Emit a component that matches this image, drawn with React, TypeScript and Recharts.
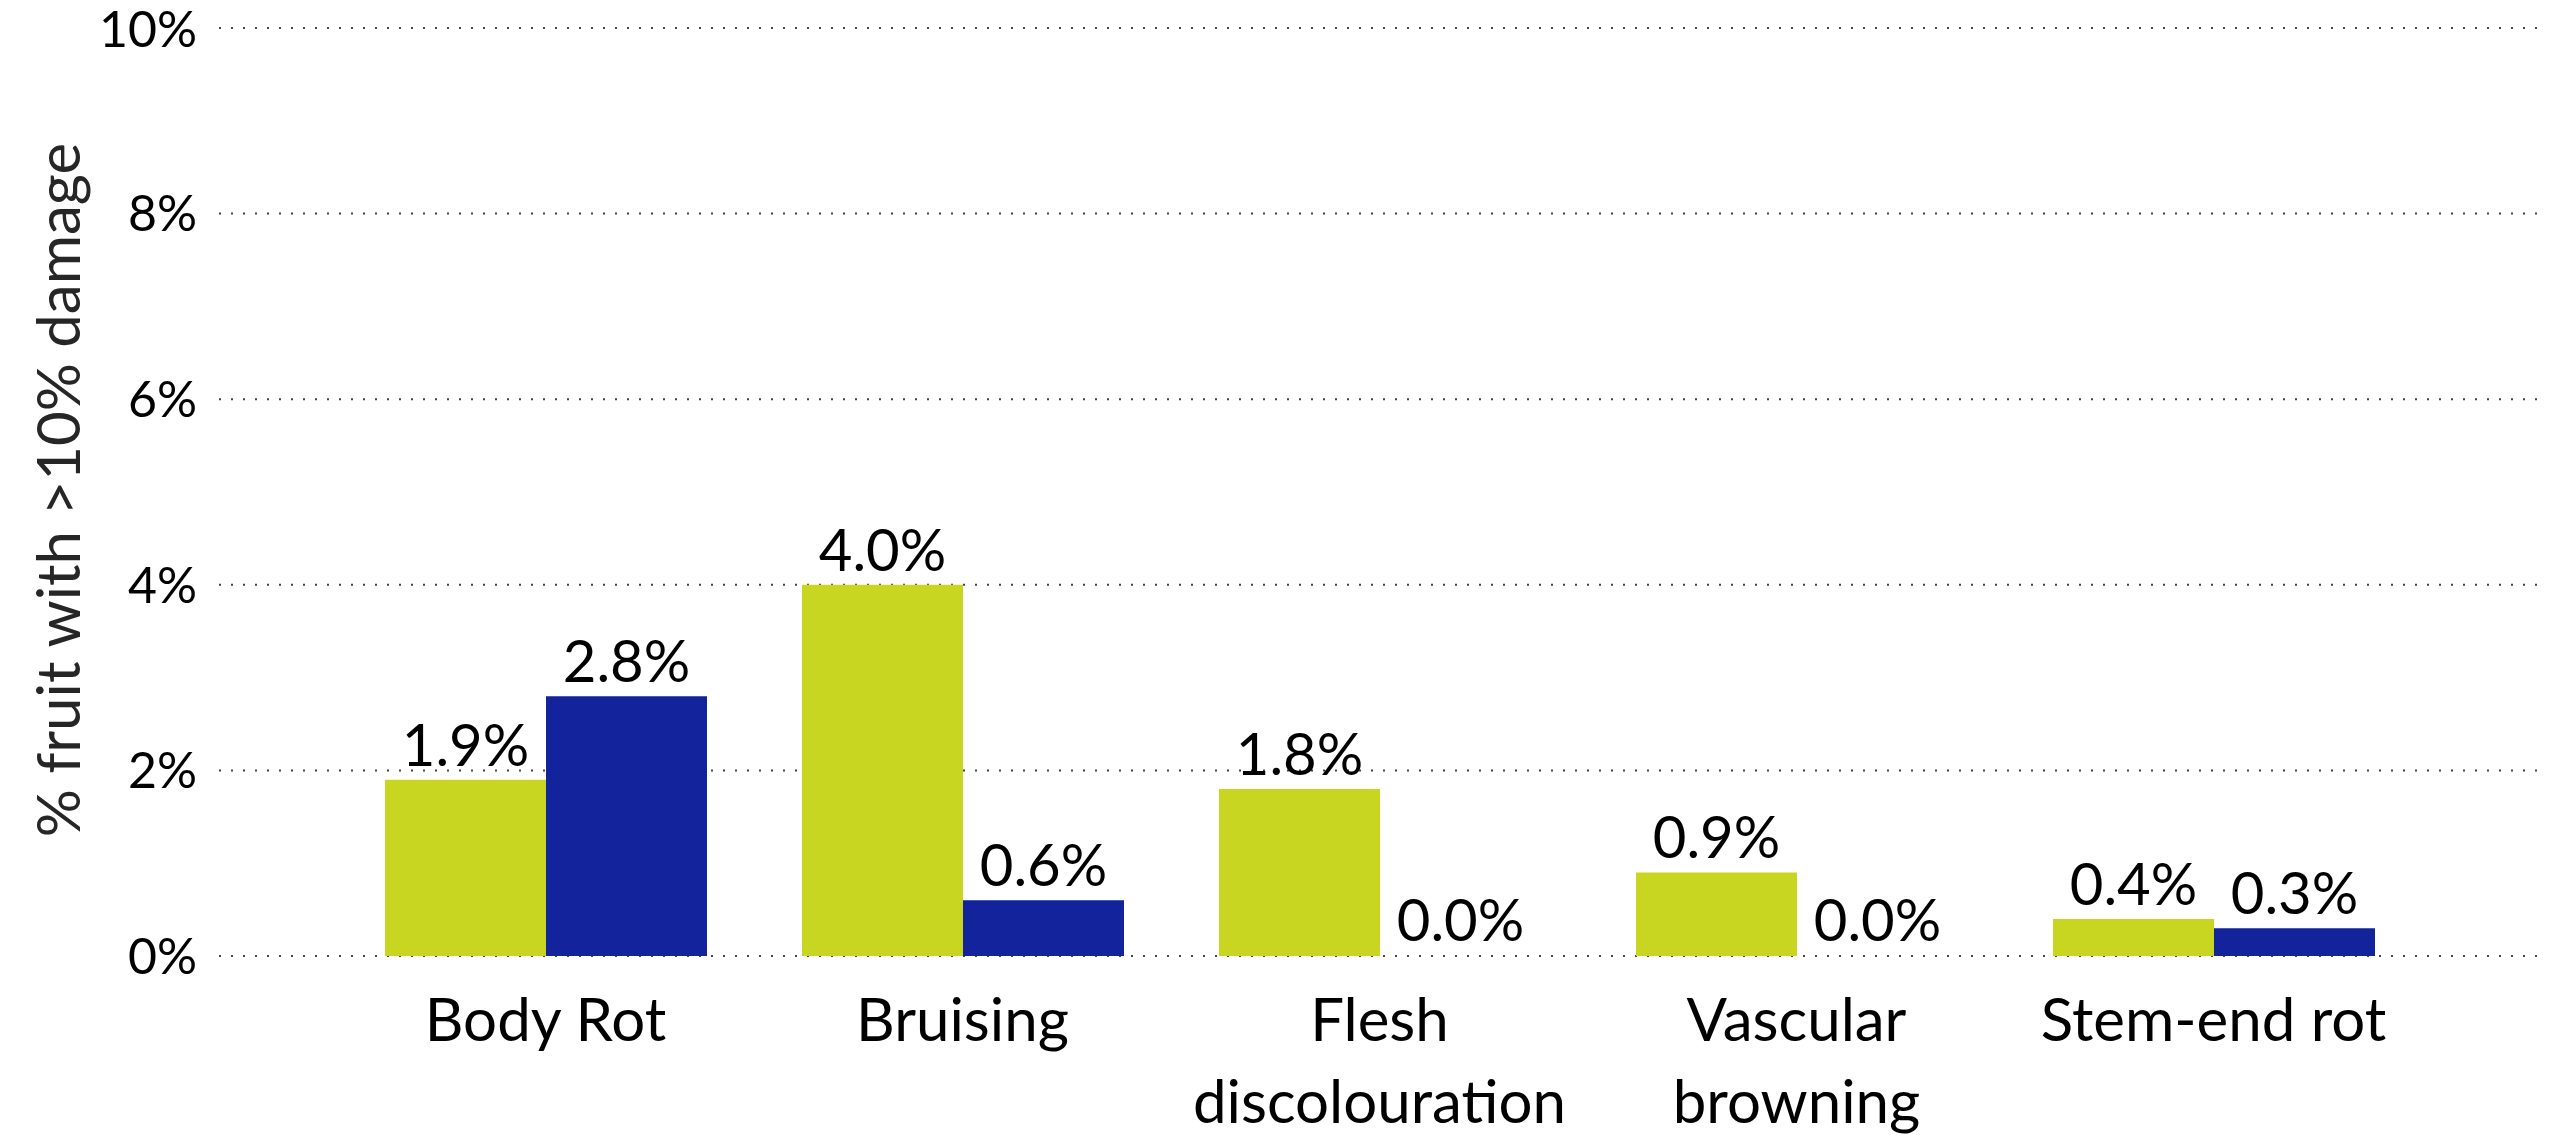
import React from 'react'
import {
  BarChart,
  Bar,
  XAxis,
  YAxis,
  CartesianGrid,
  LabelList,
  Rectangle,
} from 'recharts'

const categories = [
  ['Body Rot'],
  ['Bruising'],
  ['Flesh', 'discolouration'],
  ['Vascular', 'browning'],
  ['Stem-end rot'],
]
const greenValues = [1.9, 4.0, 1.8, 0.9, 0.4]
const blueValues = [2.8, 0.6, 0.0, 0.0, 0.3]
const yTicks = [0, 2, 4, 6, 8, 10]

const data = categories.map((lines, i) => ({
  name: lines.join(' '),
  green: greenValues[i],
  blue: blueValues[i],
}))

const FONT = 'Lato, "Open Sans", sans-serif'

const XTick = (props: any) => {
  const { x, y, index } = props
  const lines = categories[index] || []
  return (
    <text x={x} y={y + 83} textAnchor="middle" fill="#000" fontSize={60} fontFamily={FONT}>
      {lines.map((l, i) => (
        <tspan key={i} x={x} dy={i === 0 ? 0 : 82}>
          {l}
        </tspan>
      ))}
    </text>
  )
}

const YLabel = () => (
  <text
    x={57}
    y={490}
    transform="rotate(-90, 57, 490)"
    textAnchor="middle"
    dominantBaseline="central"
    fill="#262626"
    fontSize={60}
    fontFamily={FONT}
  >
    % fruit with &gt;10% damage
  </text>
)

// zero bars get a 1px min size so their label still shows, but draw nothing
const BarShape = (props: any) => {
  if (!props.value) return <g />
  return <Rectangle {...props} />
}

const fmt = (v: any) => `${Number(v).toFixed(1)}%`

export default function App() {
  return (
    <div style={{ position: 'absolute', left: 0, top: 0, background: '#fff' }}>
      <BarChart
        width={2551}
        height={1135}
        data={data}
        margin={{ top: 28, right: 14, bottom: 149, left: 0 }}
        barGap={0}
        barSize={161}
      >
        <CartesianGrid vertical={false} stroke="#444" strokeWidth={2} strokeDasharray="2 10" />
        <XAxis
          dataKey="name"
          axisLine={false}
          tickLine={false}
          tickSize={0}
          interval={0}
          padding={{ left: 118, right: 115 }}
          tick={<XTick />}
        />
        <YAxis
          width={219}
          domain={[0, 10]}
          ticks={yTicks}
          axisLine={false}
          tickLine={false}
          tickSize={0}
          tickMargin={22}
          tickFormatter={(v: number) => `${v}%`}
          tick={{ fill: '#000', fontSize: 50, fontFamily: FONT }}
          label={<YLabel />}
        />
        <Bar dataKey="green" fill="#C8D521" isAnimationActive={false} minPointSize={1} shape={<BarShape />}>
          <LabelList dataKey="green" position="top" offset={14} formatter={fmt} fill="#000" fontSize={58} fontFamily={FONT} />
        </Bar>
        <Bar dataKey="blue" fill="#12239C" isAnimationActive={false} minPointSize={1} shape={<BarShape />}>
          <LabelList dataKey="blue" position="top" offset={14} formatter={fmt} fill="#000" fontSize={58} fontFamily={FONT} />
        </Bar>
      </BarChart>
    </div>
  )
}
